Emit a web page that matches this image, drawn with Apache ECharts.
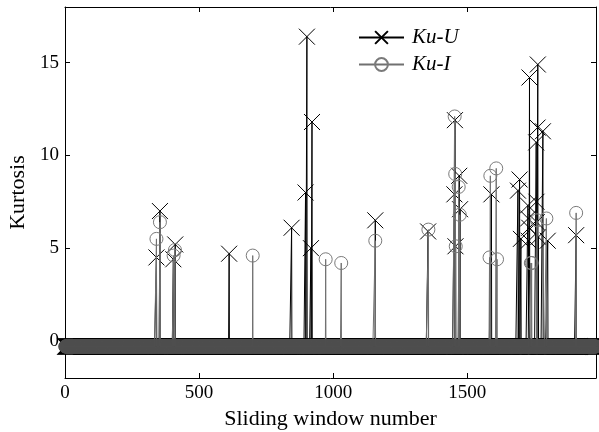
<!DOCTYPE html>
<html><head><meta charset="utf-8">
<script src="https://cdn.jsdelivr.net/npm/echarts@6/dist/echarts.min.js"></script>
<style>html,body{margin:0;padding:0;background:#fff}#c{width:599px;height:432px}</style>
</head><body><div id="c"></div>
<script>
// ---- data ----
const windowCount = 1979;          // sliding windows 1..1979
const baselineKurtosis = -0.3;     // level of all non-spike windows
const kuUSpikes = [
  [341,4.5],[354,7.0],[404,4.4],[411,5.2],[612,4.7],[845,6.1],
  [897,8.0],[902,16.4],[917,5.0],[921,11.8],[1157,6.5],[1354,5.9],
  [1452,7.9],[1454,11.9],[1456,5.1],[1470,8.9],[1473,7.1],[1590,7.9],
  [1689,8.1],[1695,8.7],[1700,5.5],[1726,7.3],[1727,6.6],[1729,5.4],
  [1731,6.1],[1732,14.2],[1757,10.7],[1758,7.5],[1759,6.4],[1762,11.5],
  [1763,14.9],[1765,5.6],[1782,11.3],[1800,5.4],[1906,5.7]
];
const kuISpikes = [
  [341,5.5],[354,6.4],[405,4.6],[410,4.9],[700,4.6],[972,4.4],
  [1030,4.2],[1157,5.4],[1355,6.0],[1453,12.1],[1455,9.0],[1457,5.1],
  [1468,8.3],[1472,6.8],[1583,4.5],[1586,8.9],[1608,9.3],[1611,4.4],
  [1737,4.2],[1740,4.2],[1760,6.5],[1795,6.6],[1906,6.9]
];
const xTickValues = [0,500,1000,1500];
const yTickValues = [0,5,10,15];
const seriesNames = ['Ku-U','Ku-I'];

// baseStyle: optional item style for the dense baseline markers
function buildSeries(spikes, baseStyle){
  const m = new Map(spikes.map(d => [d[0], d[1]]));
  const out = [];
  for (let w = 1; w <= windowCount; w++) {
    if (m.has(w)) out.push([w, m.get(w)]);
    else if (baseStyle) out.push({value:[w, baselineKurtosis], itemStyle:baseStyle});
    else out.push([w, baselineKurtosis]);
  }
  return out;
}

const font = 'Liberation Serif';
const chart = echarts.init(document.getElementById('c'), null, {renderer:'canvas'});
const xBase = {
  type:'value', min:0, max:1980, interval:500,
  axisLine:{show:true, onZero:false, lineStyle:{color:'#000', width:1}},
  axisTick:{show:true, inside:true, length:5, lineStyle:{color:'#000'}},
  splitLine:{show:false}
};
const yBase = {
  type:'value', min:-2, max:18,
  axisLine:{show:true, onZero:false, lineStyle:{color:'#000', width:1}},
  axisTick:{show:true, inside:true, length:5, lineStyle:{color:'#000'}, customValues:yTickValues},
  splitLine:{show:false}
};
chart.setOption({
  animation:false,
  backgroundColor:'#fff',
  grid:{left:65, right:3, top:7, bottom:54, containLabel:false, outerBoundsMode:'none'},
  legend:{
    orient:'vertical', left:353, top:22, itemWidth:45, itemHeight:16, itemGap:6,
    data:seriesNames,
    textStyle:{fontFamily:font, fontStyle:'italic', fontSize:21, color:'#000', padding:[0,0,0,3]}
  },
  xAxis:[
    Object.assign({}, xBase, {
      position:'bottom',
      axisLabel:{show:true, color:'#000', fontFamily:font, fontSize:19, margin:6,
        customValues:xTickValues, formatter:v => String(v)},
      name:'Sliding window number', nameLocation:'middle', nameGap:26,
      nameTextStyle:{fontFamily:font, fontSize:22, color:'#000'}
    }),
    Object.assign({}, xBase, {position:'top', axisLabel:{show:false}})
  ],
  yAxis:[
    Object.assign({}, yBase, {
      position:'left',
      axisLabel:{show:true, color:'#000', fontFamily:font, fontSize:19, margin:6,
        customValues:yTickValues, formatter:v => String(v)},
      name:'Kurtosis', nameLocation:'middle', nameGap:36,
      nameTextStyle:{fontFamily:font, fontSize:22, color:'#000'}
    }),
    Object.assign({}, yBase, {position:'right', axisLabel:{show:false}})
  ],
  series:[
    {
      name:seriesNames[0], type:'line', data:buildSeries(kuUSpikes),
      symbol:'path://M0,0L10,10M10,0L0,10', symbolSize:16, showAllSymbol:true,
      lineStyle:{color:'#000', width:1},
      itemStyle:{color:'#000', borderColor:'#000', borderWidth:1},
      clip:true, z:2
    },
    {
      name:seriesNames[1], type:'line',
      data:buildSeries(kuISpikes, {color:'rgba(0,0,0,0)', borderColor:'#4e4e4e', borderWidth:1}),
      symbol:'circle', symbolSize:13, showAllSymbol:true,
      lineStyle:{color:'#707070', width:1},
      itemStyle:{color:'rgba(0,0,0,0)', borderColor:'#7a7a7a', borderWidth:1},
      clip:true, z:3
    }
  ]
});
</script></body></html>
